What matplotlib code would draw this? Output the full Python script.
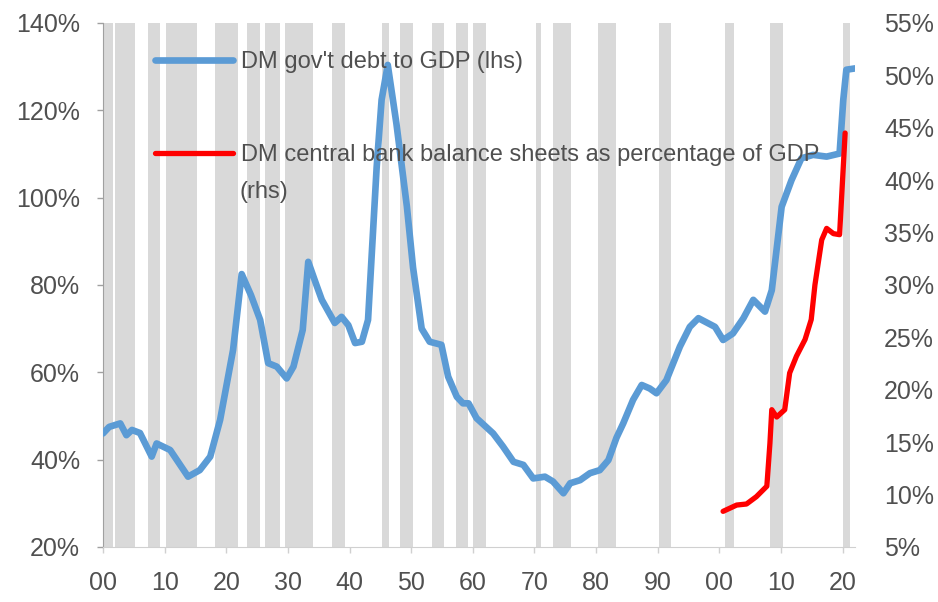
import matplotlib
matplotlib.use('Agg')
import matplotlib.pyplot as plt
from matplotlib.ticker import FuncFormatter

# recession periods (start, end) shown as grey bands
recession_start = [1900, 1902, 1907.3, 1910.2, 1918.2, 1923.3, 1926.3, 1929.5, 1937.2, 1945.2,
                   1948.2, 1953.3, 1957.2, 1960.1, 1970.2, 1973, 1980.3, 1990.2, 2000.9, 2008.2, 2020.1]
recession_end = [1901.6, 1905.2, 1909.2, 1915.2, 1921.9, 1925.5, 1928.7, 1934.1, 1939.2, 1946.4,
                 1950.3, 1955.3, 1959.2, 1962.1, 1971.1, 1976, 1983.3, 1992.1, 2002.3, 2010.3, 2021.2]

# DM government debt to GDP (lhs, %)
debt_years = [1900, 1901, 1902.8, 1903.8, 1904.7, 1906, 1907.9, 1908.7, 1910.9, 1913.8,
              1915.7, 1917.4, 1919, 1921.1, 1922.5, 1924, 1925.5, 1926.8, 1928.2, 1929.8,
              1930.9, 1932.4, 1933.3, 1934.5, 1935.5, 1937.6, 1938.7, 1939.8, 1940.9, 1942,
              1943, 1944.4, 1945.2, 1946.2, 1947.6, 1949.3, 1950.3, 1951.7, 1953, 1954.9,
              1956, 1957.4, 1958.4, 1959.3, 1960.6, 1963.3, 1964.9, 1966.6, 1968.2, 1969.8,
              1971.7, 1973, 1974.7, 1975.8, 1977.4, 1979, 1980.6, 1982, 1983.3, 1984.4,
              1986, 1987.4, 1988.7, 1989.8, 1991.4, 1993.6, 1995.2, 1996.6, 1999.3, 2000.6,
              2002.2, 2003.9, 2005.5, 2007.4, 2008.5, 2010.1, 2011.7, 2013.3, 2015.2, 2017.4,
              2019.5, 2020.1, 2020.6, 2022]
debt_values = [46, 47.5, 48.3, 45.6, 46.8, 46.1, 40.7, 43.7, 42.2, 36.1,
               37.6, 40.7, 49.1, 65.1, 82.5, 77.7, 72, 62.1, 61.3, 58.6,
               61.3, 69.7, 85.3, 80.5, 76.6, 71.3, 72.7, 70.8, 66.7, 67,
               72, 107, 122.4, 130.4, 117, 98, 84, 70, 67, 66.3,
               59, 54.4, 52.9, 52.9, 49.5, 46, 43, 39.5, 38.8, 35.7,
               36.1, 35, 32.3, 34.6, 35.3, 36.9, 37.6, 39.9, 45, 48.3,
               53.7, 57.1, 56.3, 55.2, 58.2, 65.9, 70.4, 72.4, 70.4, 67.4,
               68.9, 72.4, 76.6, 73.9, 78.8, 97.9, 104, 109, 109.8, 109.4,
               110.1, 122.4, 129.3, 129.6]

# DM central bank balance sheets as % of GDP (rhs, %)
cb_years = [2000.6, 2002.8, 2004.4, 2006, 2007.7, 2008.2, 2008.5, 2009.3, 2010.6, 2011.4,
            2012.5, 2013.9, 2014.9, 2015.5, 2016.6, 2017.4, 2018.5, 2019.5, 2020.4]
cb_values = [8.4, 9.0, 9.1, 9.8, 10.8, 14.9, 18.1, 17.4, 18.1, 21.6,
             23.2, 24.8, 26.7, 30, 34.3, 35.4, 34.9, 34.8, 44.5]

x_ticks = [1900, 1910, 1920, 1930, 1940, 1950, 1960, 1970, 1980, 1990, 2000, 2010, 2020]
x_labels = ['00', '10', '20', '30', '40', '50', '60', '70', '80', '90', '00', '10', '20']

TEXT = '#505050'
plt.rcParams['font.family'] = ['Liberation Sans', 'DejaVu Sans']

fig = plt.figure(figsize=(9.38, 6.02), dpi=100)
ax = fig.add_axes([0.1098, 0.0914, 0.8017, 0.8704])
ax2 = ax.twinx()

for s, e in zip(recession_start, recession_end):
    ax.axvspan(s, e, color='#D9D9D9', lw=0, zorder=0)

blue, = ax.plot(debt_years, debt_values, color='#5B9BD5', lw=4.8,
                solid_capstyle='round', solid_joinstyle='round', zorder=3)
red, = ax2.plot(cb_years, cb_values, color='#FF0000', lw=3.8,
                solid_capstyle='round', solid_joinstyle='round', zorder=3)

ax.set_xlim(1900, 2022)
ax.set_ylim(20, 140)
ax2.set_ylim(5, 55)
ax.set_yticks(range(20, 141, 20))
ax2.set_yticks(range(5, 56, 5))
ax.set_xticks(x_ticks)
ax.set_xticklabels(x_labels)

pct = FuncFormatter(lambda v, p: '%d%%' % v)
ax.yaxis.set_major_formatter(pct)
ax2.yaxis.set_major_formatter(pct)

ax.tick_params(axis='y', length=4.5, width=1, color='#A0A0A0', pad=12,
               labelsize=18, labelcolor=TEXT)
ax.tick_params(axis='x', length=4, width=1, color='#D0D0D0', pad=13,
               labelsize=18, labelcolor=TEXT)
ax2.tick_params(axis='y', length=0, pad=21, labelsize=18, labelcolor=TEXT)

for side in ['top', 'right']:
    ax.spines[side].set_visible(False)
ax.spines['left'].set_color('#A0A0A0')
ax.spines['bottom'].set_color('#D0D0D0')
for side in ax2.spines:
    ax2.spines[side].set_visible(False)

leg = ax2.legend([blue, red],
                 ["DM gov't debt to GDP (lhs)",
                  'DM central bank balance sheets as percentage of GDP'],
                 loc='upper left', bbox_to_anchor=(0.069, 0.946), frameon=False,
                 borderpad=0, borderaxespad=0, handlelength=3.3, handletextpad=0.35,
                 labelspacing=3.0, fontsize=17)
for t in leg.get_texts():
    t.set_color(TEXT)
ax2.text(0.182, 0.678, '(rhs)', transform=ax2.transAxes, fontsize=17,
         color=TEXT, va='center', ha='left')

plt.savefig('out.png', dpi=100)
